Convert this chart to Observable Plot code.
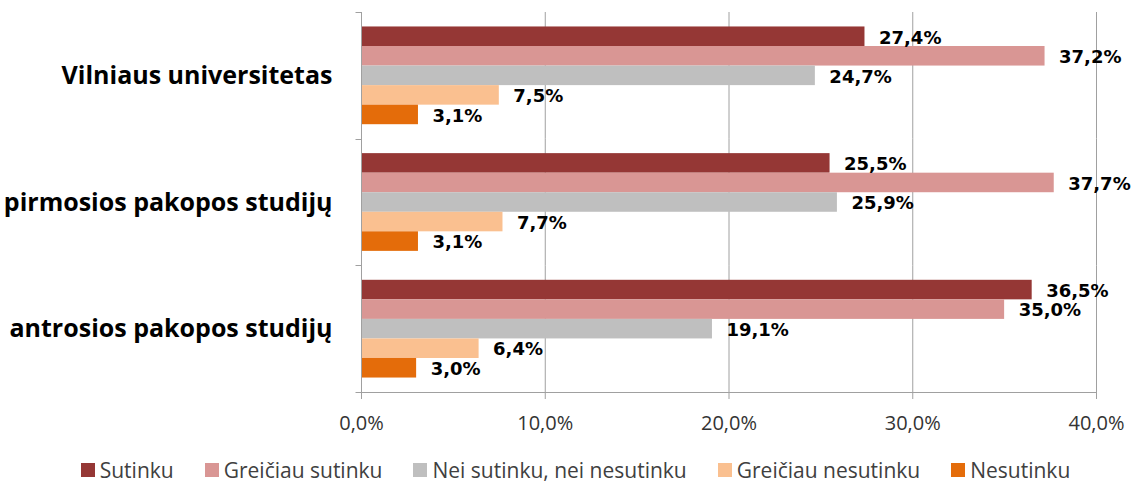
<!DOCTYPE html>
<html><head><meta charset="utf-8">
<script src="https://cdn.jsdelivr.net/npm/d3@7"></script>
<script src="https://cdn.jsdelivr.net/npm/@observablehq/plot@0.6"></script>
<style>
body{margin:0;background:#fff;}
#chart{width:1137px;}
.legend{display:flex;justify-content:center;align-items:center;gap:31px;height:48px;padding-left:14px;font-family:"Open Sans";font-size:21px;color:#404040;}
.item{display:flex;align-items:center;gap:5px;white-space:nowrap}
.sw{width:14px;height:14px;display:inline-block}
</style></head><body><div id="chart"></div>
<script>
const categories = ["Vilniaus universitetas", "pirmosios pakopos studijų", "antrosios pakopos studijų"];
const series = ["Sutinku", "Greičiau sutinku", "Nei sutinku, nei nesutinku", "Greičiau nesutinku", "Nesutinku"];
const colors = ["#953735", "#D99694", "#BFBFBF", "#FAC090", "#E46C0A"];
const vilniaus = [27.4, 37.2, 24.7, 7.5, 3.1];
const pirmosios = [25.5, 37.7, 25.9, 7.7, 3.1];
const antrosios = [36.5, 35.0, 19.1, 6.4, 3.0];
const xTicks = [0, 10, 20, 30, 40];

const fmt = v => v.toFixed(1).replace(".", ",") + "%";
const rows = [vilniaus, pirmosios, antrosios].flatMap((vals, ci) =>
  vals.map((v, si) => ({category: categories[ci], series: series[si], value: v})));

const plot = Plot.plot({
  width: 1137, height: 446,
  marginTop: 12, marginBottom: 54, marginLeft: 361, marginRight: 41,
  style: {fontFamily: "Open Sans", background: "#fff", overflow: "visible"},
  x: {domain: [0, 40]},
  y: {domain: series, paddingInner: 0, paddingOuter: 0.74, round: false, axis: null},
  fy: {domain: categories, padding: 0, round: false},
  color: {domain: series, range: colors},
  marks: [
    Plot.gridX(xTicks, {stroke: "#a0a0a0", strokeOpacity: 1}),
    Plot.barX(rows, {x: "value", y: "series", fy: "category", fill: "series"}),
    Plot.text(rows, {x: "value", y: "series", fy: "category", text: d => fmt(d.value),
      textAnchor: "start", dx: 14, dy: 1, fontWeight: "bold", fontSize: 18,
      fontFamily: "DejaVu Sans", fill: "#000"}),
    Plot.axisX({ticks: xTicks, tickFormat: fmt, tickSize: 7, tickPadding: 16,
      stroke: "#a0a0a0", fill: "#333", fontSize: 20, label: null}),
    Plot.axisFy({anchor: "left", tickSize: 0, tickPadding: 29, fontSize: 25, fontWeight: "bold",
      fill: "#000", label: null})
  ]
});

// axis lines and category boundary ticks, positioned from the plot's own scales
const xs = plot.scale("x"), fys = plot.scale("fy");
const x0 = Math.round(xs.apply(0)) + 0.5, x1 = Math.round(xs.apply(40)) + 0.5;
const bounds = categories.map(c => fys.apply(c)).concat([fys.apply(categories[categories.length - 1]) + fys.bandwidth]).map(v => Math.round(v) + 0.5);
const g = d3.select(plot).append("g").attr("stroke", "#a0a0a0").attr("stroke-width", 1);
g.append("line").attr("x1", x0).attr("x2", x0).attr("y1", bounds[0]).attr("y2", bounds[bounds.length - 1]);
g.append("line").attr("x1", x0).attr("x2", x1).attr("y1", bounds[bounds.length - 1]).attr("y2", bounds[bounds.length - 1]);
bounds.forEach(b => g.append("line").attr("x1", x0 - 6).attr("x2", x0).attr("y1", b).attr("y2", b));

const chart = document.getElementById("chart");
chart.appendChild(plot);
const legend = document.createElement("div");
legend.className = "legend";
series.forEach((s, i) => {
  const it = document.createElement("span"); it.className = "item";
  const sw = document.createElement("span"); sw.className = "sw"; sw.style.background = colors[i];
  const t = document.createElement("span"); t.textContent = s;
  it.appendChild(sw); it.appendChild(t); legend.appendChild(it);
});
chart.appendChild(legend);
</script></body></html>
